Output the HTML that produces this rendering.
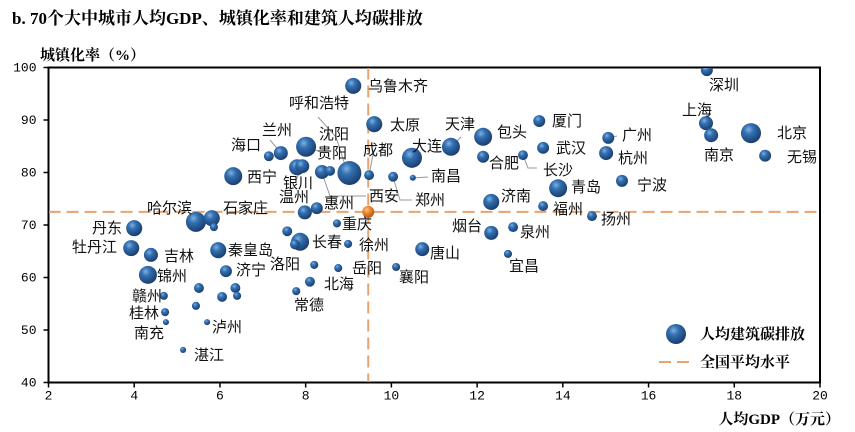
<!DOCTYPE html>
<html><head><meta charset="utf-8"><style>
body{margin:0;background:#fff;}
svg{display:block;font-family:"Liberation Sans","Noto Sans CJK SC",sans-serif;}
</style></head><body>
<svg id="c" width="855" height="432" viewBox="0 0 855 432">
<defs>
<radialGradient id="gb" cx="0.38" cy="0.32" r="0.7">
<stop offset="0" stop-color="#7fb0e0"/><stop offset="0.35" stop-color="#3270b2"/><stop offset="1" stop-color="#1a3c6a"/>
</radialGradient>
<radialGradient id="go" cx="0.38" cy="0.32" r="0.7">
<stop offset="0" stop-color="#ffc38a"/><stop offset="0.4" stop-color="#ef8a2e"/><stop offset="1" stop-color="#b4561a"/>
</radialGradient>
<clipPath id="clip"><rect x="49" y="68" width="771" height="314"/></clipPath>
</defs>
<text x="12" y="24" font-family="'Liberation Serif','Noto Serif CJK SC',serif" font-weight="bold" font-size="17">b. 70个大中城市人均GDP、城镇化率和建筑人均碳排放</text>
<text x="40" y="60" font-weight="bold" font-size="15" font-family="'Liberation Serif','Noto Serif CJK SC',serif">城镇化率（%）</text>
<text x="840" y="424" text-anchor="end" font-weight="bold" font-size="15" font-family="'Liberation Serif','Noto Serif CJK SC',serif">人均GDP（万元）</text>
<g id="axes"></g>
<g id="leaders" stroke="#999" stroke-width="1" fill="none">
<polyline points="318,117 336,137 345,165"/>
<polyline points="366,196 330,196 322,173"/>
<polyline points="412,200 400,200 393,177"/>
<polyline points="428,177 413,178"/>
<polyline points="537,168 528,168 523,155"/>
<polyline points="461,137 451,147"/>
<polyline points="374,150 369,175"/>
<polyline points="617,136 608,138"/>
<polyline points="296,180 302,167"/>
<polyline points="318,151 306,147"/>
<polyline points="270,140 281,153"/>
</g>
<g id="marks" clip-path="url(#clip)"></g>
<g id="labels" font-size="15" fill="#111"></g>
<g>
<circle cx="676" cy="334" r="10" fill="url(#gb)"/>
<text x="700" y="339" font-weight="bold" font-size="15" font-family="'Liberation Serif','Noto Serif CJK SC',serif">人均建筑碳排放</text>
<line x1="659" y1="362" x2="693" y2="362" stroke="#e8a36e" stroke-width="2" stroke-dasharray="12,6"/>
<text x="700" y="367" font-weight="bold" font-size="15" font-family="'Liberation Serif','Noto Serif CJK SC',serif">全国平均水平</text>
</g>
</svg>
<script>
const cities=["乌鲁木齐","太原","兰州","海口","沈阳","银川","贵阳","呼和浩特","西安","","成都","郑州","南昌","大连","天津","包头","合肥","长沙","厦门","武汉","青岛","西宁","哈尔滨","石家庄","","丹东","温州","惠州","","重庆","济南","福州","扬州","牡丹江","吉林","锦州","赣州","桂林","南充","湛江","","","泸州","秦皇岛","济宁","","","","长春","","洛阳","北海","常德","岳阳","徐州","唐山","襄阳","烟台","泉州","宜昌","深圳","上海","南京","北京","无锡","广州","杭州","宁波"];
const gdp=[9.11,9.6,7.42,7.14,8.01,7.8,7.92,9.02,8.38,8.57,9.48,10.04,10.5,10.48,11.39,12.14,12.14,13.07,13.45,13.54,13.89,6.31,5.44,5.81,5.86,4.0,7.98,8.26,7.57,8.73,12.33,13.54,14.68,3.93,4.39,4.32,4.69,4.72,4.74,5.14,5.51,5.44,5.7,5.96,6.14,6.05,6.36,6.4,7.87,7.75,8.2,8.1,7.78,8.76,8.99,10.72,10.11,12.33,12.84,12.72,17.36,17.34,17.46,18.39,18.72,15.06,15.01,15.38];
const urban=[96.5,89.2,83.7,83.1,84.9,81.0,81.2,79.9,80.1,80.3,79.5,79.2,79.0,82.8,84.9,86.8,83.0,83.3,89.8,84.7,77.0,79.3,70.6,71.3,69.6,69.4,72.4,73.2,68.8,70.3,74.4,73.6,71.7,65.6,64.3,60.5,56.5,53.4,51.5,46.2,58.0,54.6,51.5,65.2,61.2,56.3,58.0,56.5,66.8,66.3,62.4,59.2,57.4,61.8,66.4,65.4,62.0,68.5,69.6,64.5,99.5,89.4,87.1,87.5,83.2,86.6,83.7,78.4];
const carbon=[6.3,6.3,4.8,2.4,9.8,6.3,4.8,14,4.8,2.4,2.4,2.4,0.9,9.8,7.9,7.9,3.5,2.4,3.5,3.5,7.9,7.9,9.8,6.3,1.6,6.3,4.8,3.5,2.4,1.6,6.3,2.4,2.4,6.3,4.8,7.9,1.6,1.6,0.9,0.9,2.4,1.6,0.9,6.3,3.5,2.4,2.4,1.6,7.9,2.4,1.6,2.4,1.6,1.6,1.6,4.8,1.6,4.8,2.4,1.6,3.5,4.8,4.8,9.8,3.5,3.5,4.8,3.5];
const avgGdp=9.46, avgUrban=72.5, avgCarbon=3.5;
const xTicks=[2,4,6,8,10,12,14,16,18,20];
const yTicks=[40,50,60,70,80,90,100];
const labelNames=["乌鲁木齐","呼和浩特","太原","兰州","沈阳","海口","贵阳","成都","天津","大连","包头","厦门","武汉","合肥","长沙","南昌","西宁","银川","西安","郑州","青岛","温州","惠州","济南","福州","哈尔滨","石家庄","重庆","烟台","泉州","丹东","长春","徐州","唐山","牡丹江","吉林","秦皇岛","洛阳","济宁","岳阳","宜昌","襄阳","锦州","北海","常德","赣州","桂林","南充","泸州","湛江","深圳","上海","广州","北京","杭州","南京","无锡","宁波","扬州"];
const labelPos=[[368,86],[289,103],[390,125],[262,130],[319,134],[231,145],[317,153],[363,150],[445,124],[412,146],[497,132],[552,121],[556,148],[489,163],[543,170],[431,176],[247,177],[283,183],[369,196],[415,200],[571,187],[279,197],[324,203],[501,196],[553,209],[147,208],[223,208],[342,224],[452,226],[520,232],[92,228],[312,242],[359,245],[430,253],[72,247],[164,256],[228,250],[270,264],[236,270],[352,268],[509,266],[399,277],[157,276],[324,284],[294,305],[132,296],[129,313],[134,333],[212,327],[194,355],[709,85],[682,110],[622,135],[777,133],[618,158],[704,155],[787,157],[637,185],[601,219]];
const NS="http://www.w3.org/2000/svg";
const L=48.5,R=820,T=67.5,B=382.5;
const sx=v=>L+(v-2)/(20-2)*(R-L);
const sy=v=>B-(v-40)/(100-40)*(B-T);
const sr=c=>3.2*Math.sqrt(c);
function mk(tag,attrs,parent){const e=document.createElementNS(NS,tag);for(const k in attrs)e.setAttribute(k,attrs[k]);parent.appendChild(e);return e;}
const axes=document.getElementById('axes'),marks=document.getElementById('marks'),labels=document.getElementById('labels');
let f=mk('rect',{x:L,y:T,width:R-L,height:B-T,fill:'none',stroke:'#000','stroke-width':2},axes);


xTicks.forEach(v=>{
 const t=mk('line',{x1:sx(v),x2:sx(v),y1:B,y2:B+5,stroke:'#000','stroke-width':1.5},axes);
 
 
 const s=mk('text',{x:sx(v),y:B+17,'text-anchor':'middle','font-size':13,'font-family':"'Liberation Mono',monospace"},axes);
 s.textContent=v;
 
 
});
yTicks.forEach(v=>{
 const t=mk('line',{x1:L-5,x2:L,y1:sy(v),y2:sy(v),stroke:'#000','stroke-width':1.5},axes);
 
 
 const s=mk('text',{x:L-12,y:sy(v)+4,'text-anchor':'end','font-size':13,'font-family':"'Liberation Mono',monospace"},axes);
 s.textContent=v;
 
 
});
let h=mk('line',{x1:L,x2:R,y1:sy(avgUrban),y2:sy(avgUrban),stroke:'#e8a36e','stroke-width':2,'stroke-dasharray':'12,6'},marks);


let vl=mk('line',{x1:sx(avgGdp),x2:sx(avgGdp),y1:T,y2:B,stroke:'#e8a36e','stroke-width':2,'stroke-dasharray':'12,6'},marks);


gdp.forEach((g,i)=>{
 const c=mk('circle',{cx:sx(g),cy:sy(urban[i]),r:sr(carbon[i]),fill:'url(#gb)'},marks);
 
 
});
const o=mk('circle',{cx:sx(avgGdp),cy:sy(avgUrban),r:sr(avgCarbon),fill:'url(#go)'},marks);


labelNames.forEach((n,i)=>{
 const t=mk('text',{x:labelPos[i][0],y:labelPos[i][1]+5},labels);
 t.textContent=n;
 
 
});
</script>
</body></html>
